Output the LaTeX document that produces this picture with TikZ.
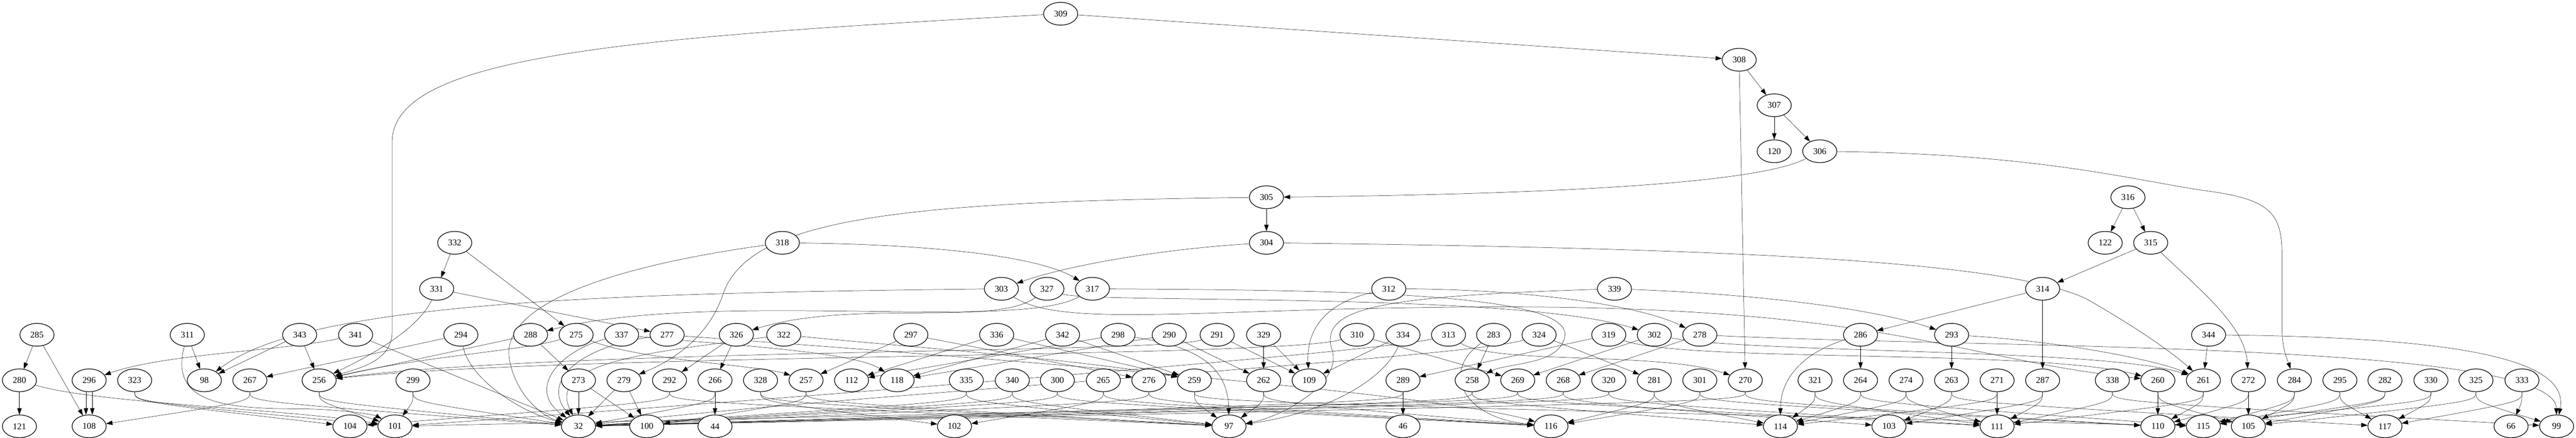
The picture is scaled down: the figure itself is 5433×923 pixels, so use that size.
\documentclass[tikz,border=0pt]{standalone}
\usepackage{fontspec}
\setmainfont{Liberation Serif}
\usetikzlibrary{shapes.geometric,arrows.meta}
\pgfdeclarelayer{bg}
\pgfsetlayers{bg,main}
\tikzset{every picture/.style={line width=1pt}}
\tikzset{
  tokn/.style={ellipse,draw,fill=white,minimum width=54pt,minimum height=36pt,inner sep=0pt,font=\fontsize{14}{16}\selectfont},
  link/.style={-{Triangle[length=10pt,width=7pt]}}
}

\begin{document}
\begin{tikzpicture}[x=0.75pt,y=0.75pt,yscale=-1,xscale=1]
\useasboundingbox (0,0) rectangle (5433,923);

% Row 0 - 6
\node [tokn] (n309) at (2237,29) {309};
\node [tokn] (n308) at (3668,126) {308};
\node [tokn] (n307) at (3742,222) {307};
\node [tokn] (n120) at (3742,319) {120};
\node [tokn] (n306) at (3838,319) {306};
\node [tokn] (n305) at (2671,416) {305};
\node [tokn] (n316) at (4488,416) {316};
\node [tokn] (n332) at (959,512) {332};
\node [tokn] (n318) at (1650,512) {318};
\node [tokn] (n304) at (2671,512) {304};
\node [tokn] (n122) at (4440,512) {122};
\node [tokn] (n315) at (4536,512) {315};
\node [tokn] (n331) at (921,609) {331};
\node [tokn] (n303) at (2112,609) {303};
\node [tokn] (n327) at (2208,609) {327};
\node [tokn] (n317) at (2304,609) {317};
\node [tokn] (n312) at (2929,609) {312};
\node [tokn] (n339) at (3405,609) {339};
\node [tokn] (n314) at (4308,609) {314};

% Row 7
\node [tokn] (n285) at (78,706) {285};
\node [tokn] (n311) at (395,706) {311};
\node [tokn] (n343) at (632,706) {343};
\node [tokn] (n341) at (750,706) {341};
\node [tokn] (n294) at (972,706) {294};
\node [tokn] (n288) at (1119,706) {288};
\node [tokn] (n275) at (1215,706) {275};
\node [tokn] (n337) at (1311,706) {337};
\node [tokn] (n277) at (1407,706) {277};
\node [tokn] (n326) at (1553,706) {326};
\node [tokn] (n322) at (1653,706) {322};
\node [tokn] (n297) at (1921,706) {297};
\node [tokn] (n336) at (2102,706) {336};
\node [tokn] (n342) at (2241,706) {342};
\node [tokn] (n298) at (2358,706) {298};
\node [tokn] (n290) at (2466,706) {290};
\node [tokn] (n291) at (2567,706) {291};
\node [tokn] (n329) at (2665,706) {329};
\node [tokn] (n310) at (2862,706) {310};
\node [tokn] (n334) at (2959,706) {334};
\node [tokn] (n313) at (3055,706) {313};
\node [tokn] (n283) at (3150,706) {283};
\node [tokn] (n324) at (3246,706) {324};
\node [tokn] (n319) at (3393,706) {319};
\node [tokn] (n302) at (3489,706) {302};
\node [tokn] (n278) at (3585,706) {278};
\node [tokn] (n286) at (3924,706) {286};
\node [tokn] (n293) at (4116,706) {293};
\node [tokn] (n344) at (4658,706) {344};

% Row 8
\node [tokn] (n280) at (41,802) {280};
\node [tokn] (n296) at (188,802) {296};
\node [tokn] (n323) at (284,802) {323};
\node [tokn] (n98) at (431,802) {98};
\node [tokn] (n267) at (527,802) {267};
\node [tokn] (n256) at (673,802) {256};
\node [tokn] (n299) at (871,802) {299};
\node [tokn] (n273) at (1220,802) {273};
\node [tokn] (n279) at (1316,802) {279};
\node [tokn] (n292) at (1412,802) {292};
\node [tokn] (n266) at (1508,802) {266};
\node [tokn] (n328) at (1604,802) {328};
\node [tokn] (n257) at (1700,802) {257};
\node [tokn] (n112) at (1796,802) {112};
\node [tokn] (n118) at (1892,802) {118};
\node [tokn] (n335) at (2038,802) {335};
\node [tokn] (n340) at (2135,802) {340};
\node [tokn] (n300) at (2230,802) {300};
\node [tokn] (n265) at (2327,802) {265};
\node [tokn] (n276) at (2423,802) {276};
\node [tokn] (n259) at (2519,802) {259};
\node [tokn] (n262) at (2665,802) {262};
\node [tokn] (n109) at (2761,802) {109};
\node [tokn] (n289) at (2959,802) {289};
\node [tokn] (n258) at (3105,802) {258};
\node [tokn] (n269) at (3201,802) {269};
\node [tokn] (n268) at (3297,802) {268};
\node [tokn] (n320) at (3393,802) {320};
\node [tokn] (n281) at (3489,802) {281};
\node [tokn] (n301) at (3585,802) {301};
\node [tokn] (n270) at (3681,802) {270};
\node [tokn] (n321) at (3828,802) {321};
\node [tokn] (n264) at (3924,802) {264};
\node [tokn] (n274) at (4020,802) {274};
\node [tokn] (n263) at (4116,802) {263};
\node [tokn] (n271) at (4212,802) {271};
\node [tokn] (n287) at (4308,802) {287};
\node [tokn] (n338) at (4455,802) {338};
\node [tokn] (n260) at (4551,802) {260};
\node [tokn] (n261) at (4647,802) {261};
\node [tokn] (n272) at (4742,802) {272};
\node [tokn] (n284) at (4839,802) {284};
\node [tokn] (n295) at (4935,802) {295};
\node [tokn] (n282) at (5030,802) {282};
\node [tokn] (n330) at (5127,802) {330};
\node [tokn] (n325) at (5222,802) {325};
\node [tokn] (n333) at (5319,802) {333};

% Row 9
\node [tokn] (n121) at (41,899) {121};
\node [tokn] (n108) at (188,899) {108};
\node [tokn] (n104) at (738,899) {104};
\node [tokn] (n101) at (833,899) {101};
\node [tokn] (n32) at (1220,899) {32};
\node [tokn] (n100) at (1364,899) {100};
\node [tokn] (n44) at (1508,899) {44};
\node [tokn] (n102) at (2013,899) {102};
\node [tokn] (n97) at (2592,899) {97};
\node [tokn] (n46) at (2959,899) {46};
\node [tokn] (n116) at (3271,899) {116};
\node [tokn] (n114) at (3755,899) {114};
\node [tokn] (n103) at (3984,899) {103};
\node [tokn] (n111) at (4212,899) {111};
\node [tokn] (n110) at (4551,899) {110};
\node [tokn] (n115) at (4647,899) {115};
\node [tokn] (n105) at (4742,899) {105};
\node [tokn] (n117) at (5030,899) {117};
\node [tokn] (n66) at (5296,899) {66};
\node [tokn] (n99) at (5392,899) {99};

\begin{pgfonlayer}{bg}
\fill [white] (0,0) rectangle (5433,923);

% Upper edges
\draw [link] (n309) -- (n308);
\draw [link] (n309) .. controls (1300,80) and (827,120) .. (827,300) -- (827,700) .. controls (827,760) and (760,776) .. (n256);
\draw [link] (n308) -- (n307);
\draw [link] (n308) -- (n270);
\draw [link] (n307) -- (n120);
\draw [link] (n307) -- (n306);
\draw [link] (n306) .. controls (3700,392) and (3200,410) .. (n305);
\draw [link] (n306) .. controls (4300,325) and (4500,380) .. (4650,402) .. controls (4790,420) and (4813,450) .. (4813,540) -- (4813,690) .. controls (4813,740) and (4825,760) .. (n284);
\draw [link] (n305) -- (n304);
\draw [link] (n305) .. controls (1900,425) and (1580,460) .. (1525,620) .. controls (1495,710) and (1420,760) .. (n279);
\draw [link] (n316) -- (n122);
\draw [link] (n316) -- (n315);
\draw [link] (n304) .. controls (2450,525) and (2250,560) .. (n303);
\draw [link] (n304) .. controls (3800,525) and (4250,560) .. (4400,630) .. controls (4540,710) and (4600,760) .. (n261);
\draw [link] (n332) -- (n331);
\draw [link] (n332) -- (n275);
\draw [link] (n318) .. controls (1300,560) and (1050,640) .. (1075,760) .. controls (1090,840) and (1150,880) .. (n32);
\draw [link] (n318) .. controls (2000,516) and (2200,545) .. (n317);
\draw [link] (n315) -- (n314);
\draw [link] (n315) .. controls (4650,620) and (4735,690) .. (n272);

% Row 6 edges
\draw [link] (n331) .. controls (880,700) and (760,760) .. (n256);
\draw [link] (n331) -- (n277);
\draw [link] (n303) .. controls (1300,618) and (650,635) .. (n98);
\draw [link] (n303) .. controls (2250,700) and (2600,640) .. (3300,648) .. controls (4000,660) and (4150,760) .. (n260);
\draw [link] (n327) .. controls (2100,690) and (1800,630) .. (n326);
\draw [link] (n327) .. controls (2300,640) and (3200,615) .. (n302);
\draw [link] (n317) .. controls (2150,700) and (1500,610) .. (n288);
\draw [link] (n317) .. controls (2800,612) and (3320,615) .. (3300,710) .. controls (3290,770) and (3180,765) .. (n258);
\draw [link] (n312) .. controls (2790,640) and (2755,700) .. (n109);
\draw [link] (n312) .. controls (3200,610) and (3450,640) .. (n278);
\draw [link] (n339) .. controls (3700,620) and (3950,650) .. (n293);
\draw [link] (n339) .. controls (2900,625) and (2780,650) .. (2810,740) .. controls (2830,810) and (2700,880) .. (n97);
\draw [link] (n314) -- (n286);
\draw [link] (n314) -- (n287);

% Row 7 edges
\draw [link] (n285) -- (n280);
\draw [link] (n285) -- (n108);
\draw [link] (n311) -- (n98);
\draw [link] (n311) .. controls (360,840) and (450,862) .. (620,862) .. controls (720,862) and (790,875) .. (n101);
\draw [link] (n343) -- (n98);
\draw [link] (n343) -- (n256);
\draw [link] (n341) .. controls (600,740) and (350,745) .. (n296);
\draw [link] (n341) -- (n32);
\draw [link] (n294) -- (n267);
\draw [link] (n294) .. controls (990,800) and (1100,870) .. (n32);
\draw [link] (n288) -- (n273);
\draw [link] (n288) -- (n256);
\draw [link] (n275) .. controls (1100,740) and (900,750) .. (n256);
\draw [link] (n275) .. controls (1350,760) and (1600,770) .. (n257);
\draw [link] (n337) .. controls (1180,740) and (1110,820) .. (n32);
\draw [link] (n337) .. controls (1500,725) and (1800,740) .. (n118);
\draw [link] (n277) .. controls (1230,730) and (1140,800) .. (n32);
\draw [link] (n277) .. controls (1800,735) and (3000,820) .. (n116);
\draw [link] (n326) -- (n292);
\draw [link] (n326) -- (n266);
\draw [link] (n322) .. controls (1400,740) and (1150,760) .. (n32);
\draw [link] (n322) .. controls (1900,730) and (2300,760) .. (n259);
\draw [link] (n297) -- (n257);
\draw [link] (n297) -- (n276);
\draw [link] (n336) -- (n112);
\draw [link] (n336) -- (n259);
\draw [link] (n342) -- (n118);
\draw [link] (n342) -- (n259);
\draw [link] (n298) -- (n112);
\draw [link] (n298) .. controls (2520,730) and (2590,770) .. (n97);
\draw [link] (n290) -- (n118);
\draw [link] (n290) -- (n262);
\draw [link] (n291) .. controls (2450,745) and (1200,735) .. (n256);
\draw [link] (n291) -- (n109);
\draw [link] (n329) -- (n262);
\draw [link] (n329) -- (n109);
\draw [link] (n310) .. controls (2700,755) and (1200,745) .. (n256);
\draw [link] (n310) -- (n269);
\draw [link] (n334) -- (n109);
\draw [link] (n334) .. controls (2920,800) and (2800,870) .. (n97);
\draw [link] (n313) .. controls (2900,745) and (1400,860) .. (n101);
\draw [link] (n313) .. controls (3150,770) and (3500,740) .. (n270);
\draw [link] (n283) -- (n258);
\draw [link] (n283) .. controls (3040,780) and (3080,880) .. (n116);
\draw [link] (n324) -- (n281);
\draw [link] (n324) .. controls (3100,755) and (1800,830) .. (n32);
\draw [link] (n319) -- (n289);
\draw [link] (n319) .. controls (3550,765) and (4300,735) .. (n260);
\draw [link] (n302) -- (n269);
\draw [link] (n302) .. controls (3700,745) and (4450,735) .. (n261);
\draw [link] (n278) -- (n268);
\draw [link] (n278) .. controls (4200,735) and (5390,720) .. (n99);
\draw [link] (n286) -- (n264);
\draw [link] (n286) .. controls (3800,745) and (3755,800) .. (n114);
\draw [link] (n293) -- (n263);
\draw [link] (n293) .. controls (4350,720) and (4550,760) .. (n261);
\draw [link] (n344) -- (n261);
\draw [link] (n344) .. controls (5200,712) and (5420,760) .. (n99);

% Row 8 edges
\draw [link] (n280) -- (n121);
\draw [link] (n280) .. controls (200,850) and (600,862) .. (n101);
\draw [link] ([xshift=-5pt]n296.south) -- ([xshift=-5pt]n108.north);
\draw [link] ([xshift=5pt]n296.south) -- ([xshift=5pt]n108.north);
\draw [link] (n323) .. controls +(0,45) .. (n104);
\draw [link] (n323) .. controls +(0,45) .. (n101);
\draw [link] (n267) .. controls +(0,45) .. (n108);
\draw [link] (n267) .. controls +(0,45) .. (n32);
\draw [link] (n256) .. controls +(0,45) .. (n101);
\draw [link] (n256) .. controls +(0,45) .. (n32);
\draw [link] (n299) .. controls +(0,45) .. (n101);
\draw [link] (n299) .. controls +(0,45) .. (n32);
\draw [link] (n273) -- (n32);
\draw [link] (n273) -- (n100);
\draw [link] (n279) -- (n32);
\draw [link] (n279) -- (n100);
\draw [link] (n292) .. controls +(0,45) .. (n104);
\draw [link] (n292) .. controls +(0,45) .. (n97);
\draw [link] (n266) -- (n44);
\draw [link] (n266) .. controls +(0,45) .. (n32);
\draw [link] (n328) .. controls +(0,45) .. (n102);
\draw [link] (n328) .. controls +(0,45) .. (n97);
\draw [link] (n257) .. controls +(0,45) .. (n100);
\draw [link] (n257) .. controls +(0,45) .. (n97);
\draw [link] (n335) .. controls +(0,45) .. (n32);
\draw [link] (n335) .. controls +(0,45) .. (n97);
\draw [link] (n340) .. controls +(0,45) .. (n32);
\draw [link] (n340) .. controls +(0,45) .. (n97);
\draw [link] (n300) .. controls +(0,45) .. (n32);
\draw [link] (n300) .. controls +(0,45) .. (n116);
\draw [link] (n265) .. controls +(0,45) .. (n102);
\draw [link] (n265) .. controls +(0,45) .. (n116);
\draw [link] (n276) .. controls +(0,45) .. (n32);
\draw [link] (n276) .. controls +(0,45) .. (n116);
\draw [link] (n259) .. controls +(0,45) .. (n97);
\draw [link] (n259) .. controls +(0,45) .. (n115);
\draw [link] (n262) .. controls +(0,45) .. (n97);
\draw [link] (n262) .. controls +(0,45) .. (n116);
\draw [link] (n289) -- (n46);
\draw [link] (n289) .. controls +(0,45) .. (n32);
\draw [link] (n258) .. controls +(0,45) .. (n32);
\draw [link] (n258) .. controls +(0,45) .. (n114);
\draw [link] (n269) .. controls +(0,45) .. (n101);
\draw [link] (n269) .. controls +(0,45) .. (n111);
\draw [link] (n268) .. controls +(0,45) .. (n32);
\draw [link] (n268) .. controls +(0,45) .. (n103);
\draw [link] (n320) .. controls +(0,45) .. (n32);
\draw [link] (n320) .. controls +(0,45) .. (n111);
\draw [link] (n281) .. controls +(0,45) .. (n116);
\draw [link] (n281) .. controls +(0,45) .. (n114);
\draw [link] (n301) .. controls +(0,45) .. (n116);
\draw [link] (n301) .. controls +(0,45) .. (n110);
\draw [link] (n270) .. controls +(0,45) .. (n32);
\draw [link] (n270) .. controls +(0,45) .. (n110);
\draw [link] (n321) .. controls +(0,45) .. (n114);
\draw [link] (n321) .. controls +(0,45) .. (n111);
\draw [link] (n264) .. controls +(0,45) .. (n114);
\draw [link] (n264) .. controls +(0,45) .. (n115);
\draw [link] (n274) .. controls +(0,45) .. (n114);
\draw [link] (n274) .. controls +(0,45) .. (n111);
\draw [link] (n263) .. controls +(0,45) .. (n103);
\draw [link] (n263) .. controls +(0,45) .. (n117);
\draw [link] (n271) -- (n111);
\draw [link] (n271) .. controls +(0,45) .. (n114);
\draw [link] (n287) .. controls +(0,45) .. (n111);
\draw [link] (n287) .. controls +(0,45) .. (n103);
\draw [link] (n338) .. controls +(0,45) .. (n111);
\draw [link] (n338) .. controls +(0,45) .. (n99);
\draw [link] (n260) -- (n110);
\draw [link] (n260) .. controls +(0,45) .. (n105);
\draw [link] (n261) .. controls +(0,45) .. (n110);
\draw [link] (n261) .. controls +(0,45) .. (n111);
\draw [link] (n272) -- (n105);
\draw [link] (n272) .. controls +(0,45) .. (n110);
\draw [link] (n284) .. controls +(0,45) .. (n105);
\draw [link] (n284) .. controls +(0,45) .. (n115);
\draw [link] (n295) .. controls +(0,45) .. (n117);
\draw [link] (n295) .. controls +(0,45) .. (n115);
\draw [link] (n282) .. controls +(0,45) .. (n105);
\draw [link] (n282) .. controls +(0,45) .. (n115);
\draw [link] (n330) .. controls +(0,45) .. (n117);
\draw [link] (n330) .. controls +(0,45) .. (n110);
\draw [link] (n325) .. controls +(0,45) .. (n99);
\draw [link] (n325) .. controls +(0,45) .. (n105);
\draw [link] (n333) .. controls +(0,45) .. (n66);
\draw [link] (n333) .. controls +(0,45) .. (n117);
\end{pgfonlayer}

\end{tikzpicture}
\end{document}
